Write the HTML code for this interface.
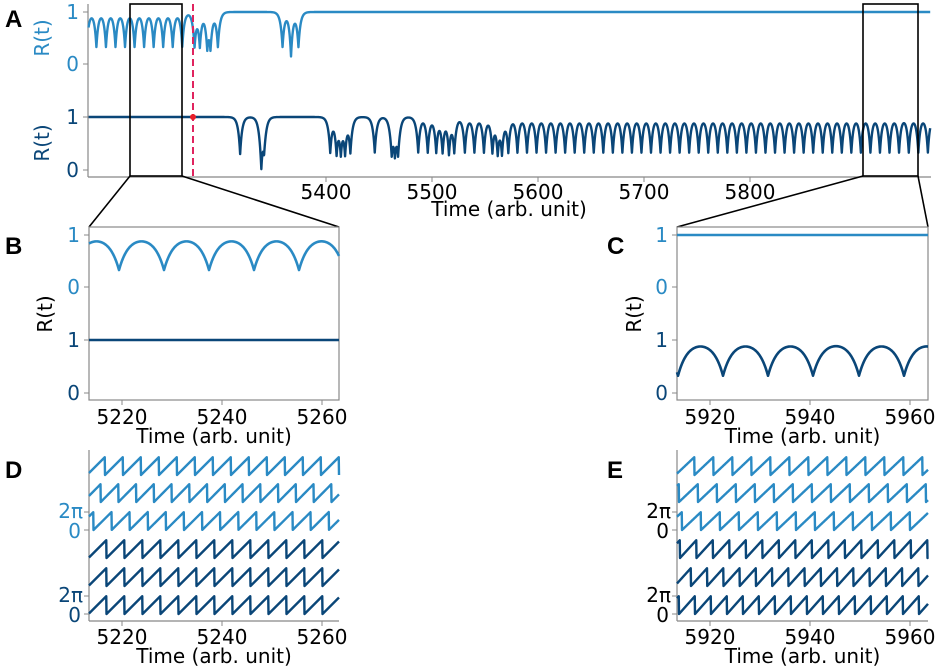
<!DOCTYPE html>
<html><head><meta charset="utf-8"><style>
html,body{margin:0;padding:0;background:#fff}
svg{display:block;font-family:"DejaVu Sans","Liberation Sans",sans-serif}
</style></head><body>
<svg id="fig" width="938" height="668" viewBox="0 0 938 668">
<g id="static"></g>
</svg>
<script>
// ---- data ----
const LIGHT = '#2a8ac4', DARK = '#0a4678';
// Panel A dips (time, minimum R) for the light (top) population
const topDipTimes = [5174.4,5183.4,5192.4,5201.4,5210.4,5219.4,5228.4,5237.4,5246.4,5255.4,5264.4,5276,5281,5288,5291,5298,5359,5367,5374];
const topDipLows  = [0.33,0.33,0.33,0.33,0.33,0.33,0.33,0.33,0.33,0.33,0.33,0.33,0.33,0.3,0.3,0.33,0.33,0.15,0.33];
// Panel A dips for the dark (bottom) population
const botDipTimes = [5319,5339,5341.5,5404,5410,5414,5418,5423,5446,5462,5465,5468,5487,5496,5504,5510,5516,5521,5531,5540,5549,5557,5562,5566,5572,
 5580.6,5589.6,5598.6,5607.6,5616.6,5625.6,5634.6,5643.6,5652.6,5661.6,5670.6,5679.6,5688.6,5697.6,5706.6,5715.6,5724.6,5733.6,5742.6,
 5751.6,5760.6,5769.6,5778.6,5787.6,5796.6,5805.6,5814.6,5823.6,5832.6,5841.6,5850.6,5859.6,5868.6,5877.6,5886.6,5895.6,5904.6,5913.6,
 5922.6,5931.6,5940.6,5949.8,5958.8,5967.8];
const botDipLows = [0.3,0.02,0.35,0.33,0.3,0.3,0.3,0.33,0.33,0.3,0.3,0.3,0.33,0.33,0.33,0.33,0.3,0.33,0.33,0.33,0.33,0.33,0.3,0.3,0.33];
const aTicks = [5400,5500,5600,5700,5800];
const bTicks = [5220,5240,5260];
const cTicks = [5920,5940,5960];
// Phase panels: sawtooth period and offset per oscillator row (rows 0-2 light, 3-5 dark)
const dPeriods = [3.6,3.55,3.62,3.6,3.6,3.6];
const dOffsets = [0.2,0.8,1.5,0.5,0.5,0.5];
const ePeriods = [3.8,3.8,3.8,3.3,3.25,3.2];
const eOffsets = [0.3,1.0,1.6,0.4,1.2,0.2];

// ---- helpers ----
const NS='http://www.w3.org/2000/svg';
const svg=document.getElementById('fig');
function el(tag,attrs,parent){const e=document.createElementNS(NS,tag);for(const k in attrs)e.setAttribute(k,attrs[k]);(parent||svg).appendChild(e);return e;}
function txt(s,x,y,attrs){const t=el('text',Object.assign({x:x,y:y},attrs));t.textContent=s;return t;}
function R(t,times,lows){let r=1;for(let i=0;i<times.length;i++){const lo=(lows[i]!==undefined?lows[i]:0.33);const d=Math.abs(t-times[i]);if(d<15)r*=1-(1-lo)*Math.exp(-d/1.9);}return r;}
function lin(d0,d1,r0,r1){return v=>r0+(v-d0)/(d1-d0)*(r1-r0);}
function curve(times,lows,t0,t1,sx,sy,color,name,w){let p='';for(let t=t0;t<=t1+1e-9;t+=0.2){p+=(p?'L':'M')+sx(t).toFixed(2)+','+sy(R(t,times,lows)).toFixed(2);}
 const e=el('path',{d:p,fill:'none',stroke:color,'stroke-width':w||2.6,'stroke-linejoin':'round'});
 
 return e;}
const tickFont={'font-size':20,'fill':'#000'};

// ---- Panel A ----
const ax=lin(5400,5500,326,432);
const aT0=5176,aT1=5970;
const ayTop=lin(0,1,64,12), ayBot=lin(0,1,170,117);
el('line',{x1:88,y1:4,x2:88,y2:177,stroke:'#888','stroke-width':1.2});
el('line',{x1:88,y1:177,x2:931,y2:177,stroke:'#888','stroke-width':1.2});
aTicks.forEach(v=>{el('line',{x1:ax(v),y1:177,x2:ax(v),y2:182,stroke:'#888'});
 const t=txt(String(v),ax(v),199,Object.assign({'text-anchor':'middle'},tickFont));
 });
[[1,ayTop,LIGHT],[0,ayTop,LIGHT],[1,ayBot,DARK],[0,ayBot,DARK]].forEach(([v,f,c])=>{el('line',{x1:83,y1:f(v),x2:88,y2:f(v),stroke:'#888'});txt(String(v),79,f(v)+7,{'text-anchor':'end','font-size':20,fill:c});});
txt('R(t)',0,0,{'font-size':20,fill:LIGHT,transform:'translate(49,38) rotate(-90)','text-anchor':'middle'});
txt('R(t)',0,0,{'font-size':20,fill:DARK,transform:'translate(49,143) rotate(-90)','text-anchor':'middle'});
txt('Time (arb. unit)',509,216,{'font-size':20,'text-anchor':'middle'});
curve(topDipTimes,topDipLows,aT0,aT1,ax,ayTop,LIGHT,'a-light-series',2.4);
curve(botDipTimes,botDipLows,aT0,aT1,ax,ayBot,DARK,'a-dark-series',2.4);
el('line',{x1:193,y1:4,x2:193,y2:177,stroke:'#e0245e','stroke-width':2,'stroke-dasharray':'7,4'});
el('circle',{cx:193,cy:117,r:3,fill:'#e8202a'});
// zoom boxes + connectors
el('rect',{x:130,y:4,width:52,height:172,fill:'none',stroke:'#000','stroke-width':1.6});
el('rect',{x:863,y:4,width:55,height:172,fill:'none',stroke:'#000','stroke-width':1.6});
el('line',{x1:130,y1:176,x2:89,y2:227,stroke:'#000','stroke-width':1.6});
el('line',{x1:182,y1:176,x2:339,y2:227,stroke:'#000','stroke-width':1.6});
el('line',{x1:863,y1:176,x2:677,y2:227,stroke:'#000','stroke-width':1.6});
el('line',{x1:918,y1:176,x2:928,y2:227,stroke:'#000','stroke-width':1.6});

// ---- Panels B and C ----
function rPanel(x0,x1,t0,ticks,topTimes,topLows,botTimes,botLows,pref,ylx){
 const sx=lin(t0,t0+50,x0,x0+250);
 const yT=lin(0,1,287,235), yB=lin(0,1,393,340);
 el('rect',{x:x0,y:227,width:x1-x0,height:173,fill:'none',stroke:'#888','stroke-width':1.2});
 ticks.forEach(v=>{el('line',{x1:sx(v),y1:400,x2:sx(v),y2:405,stroke:'#888'});
  const t=txt(String(v),sx(v),424,Object.assign({'text-anchor':'middle'},tickFont));
  });
 [[1,yT,LIGHT],[0,yT,LIGHT],[1,yB,DARK],[0,yB,DARK]].forEach(([v,f,c])=>{el('line',{x1:x0-5,y1:f(v),x2:x0,y2:f(v),stroke:'#888'});txt(String(v),x0-9,f(v)+7,{'text-anchor':'end','font-size':20,fill:c});});
 txt('R(t)',0,0,{'font-size':20,fill:'#000',transform:'translate('+ylx+',314) rotate(-90)','text-anchor':'middle'});
 txt('Time (arb. unit)',(x0+x1)/2,443,{'font-size':20,'text-anchor':'middle'});
 curve(topTimes,topLows,t0,t0+(x1-x0)/5,sx,yT,LIGHT,pref+'-light-series');
 curve(botTimes,botLows,t0,t0+(x1-x0)/5,sx,yB,DARK,pref+'-dark-series');
}
rPanel(89,339,5213.4,bTicks,topDipTimes,topDipLows,botDipTimes,botDipLows,'b',52);
rPanel(677,928,5913.4,cTicks,topDipTimes,topDipLows,botDipTimes,botDipLows,'c',641);

// ---- Panels D and E ----
const rowZero=[475,502,530,558,586,614];
function phasePanel(x0,x1,t0,ticks,periods,offsets,pref,colored){
 const sx=lin(t0,t0+50,x0,x0+250);
 el('line',{x1:x0,y1:450,x2:x0,y2:621,stroke:'#888','stroke-width':1.2});
 el('line',{x1:x0,y1:621,x2:x1,y2:621,stroke:'#888','stroke-width':1.2});
 ticks.forEach(v=>{el('line',{x1:sx(v),y1:621,x2:sx(v),y2:626,stroke:'#888'});
  const t=txt(String(v),sx(v),644,Object.assign({'text-anchor':'middle'},tickFont));
  });
 [[2,LIGHT],[5,DARK]].forEach(([r,c])=>{const col=colored?c:'#000';
  el('line',{x1:x0-5,y1:rowZero[r]-18,x2:x0,y2:rowZero[r]-18,stroke:'#888'});
  el('line',{x1:x0-5,y1:rowZero[r],x2:x0,y2:rowZero[r],stroke:'#888'});
  txt('2\u03c0',x0-6,rowZero[r]-12,{'text-anchor':'end','font-size':20,fill:col});
  txt('0',x0-8,rowZero[r]+8,{'text-anchor':'end','font-size':20,fill:col});});
 txt('Time (arb. unit)',(x0+x1)/2,663,{'font-size':20,'text-anchor':'middle'});
 const tEnd=t0+(x1-x0)/5;
 for(let r=0;r<6;r++){
  let p='';
  for(let t=t0;t<=tEnd+1e-9;t+=0.05){let f=((t-offsets[r])/periods[r])%1;if(f<0)f+=1;
   p+=(p?'L':'M')+sx(t).toFixed(2)+','+(rowZero[r]-f*18).toFixed(2);}
  const e=el('path',{d:p,fill:'none',stroke:r<3?LIGHT:DARK,'stroke-width':2.4,'stroke-linejoin':'round'});
  
  
 }
}
phasePanel(89,339,5213.4,bTicks,dPeriods,dOffsets,'d',true);
phasePanel(677,928,5913.4,cTicks,ePeriods,eOffsets,'e',false);

// ---- panel letters ----
[['A',5,27],['B',5,254],['C',607,254],['D',5,478],['E',607,478]].forEach(([s,x,y])=>{
 const t=txt(s,x,y,{'font-size':24,'font-weight':'bold','font-family':'"Liberation Sans",sans-serif'});
 
 });
</script>
</body></html>
